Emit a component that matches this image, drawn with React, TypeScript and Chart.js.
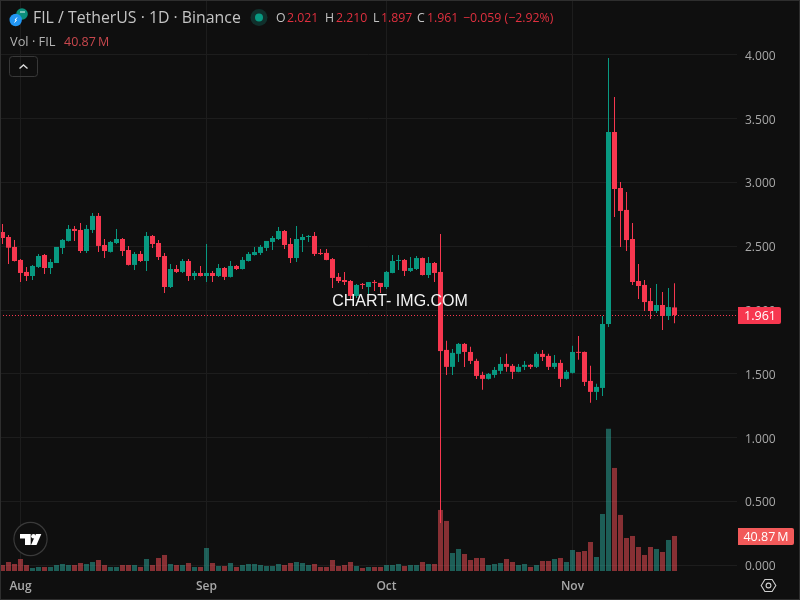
import React, { useEffect, useRef } from "react";
import { Chart, registerables } from "chart.js";

Chart.register(...registerables);

const opens = [2.612,2.573,2.495,2.393,2.299,2.267,2.338,2.432,2.330,2.369,2.487,2.542,2.636,2.628,2.463,2.628,2.738,2.510,2.456,2.526,2.557,2.471,2.354,2.440,2.385,2.581,2.526,2.424,2.181,2.322,2.299,2.385,2.267,2.291,2.267,2.291,2.267,2.330,
2.260,2.346,2.322,2.385,2.432,2.448,2.487,2.534,2.557,2.620,2.518,2.408,2.549,2.573,2.581,2.448,2.448,2.400,2.260,2.236,2.228,2.111,2.205,2.181,2.220,2.213,2.181,2.291,2.385,2.393,2.307,2.322,2.408,2.275,2.369,2.299,
1.688,1.555,1.657,1.735,1.672,1.602,1.492,1.461,1.492,1.524,1.578,1.563,1.516,1.555,1.571,1.555,1.657,1.641,1.555,1.586,1.461,1.508,1.672,1.672,1.445,1.359,1.390,1.891,3.396,2.957,2.785,2.557,2.228,2.197,2.071,1.993,2.040,1.954,2.021];
const highs = [2.675,2.589,2.550,2.401,2.338,2.354,2.440,2.440,2.401,2.495,2.557,2.667,2.659,2.683,2.667,2.761,2.761,2.557,2.542,2.636,2.565,2.503,2.456,2.463,2.612,2.589,2.550,2.448,2.361,2.354,2.401,2.401,2.307,2.346,2.518,2.307,2.361,2.338,
2.385,2.354,2.416,2.455,2.495,2.510,2.542,2.581,2.651,2.628,2.565,2.659,2.596,2.589,2.612,2.479,2.479,2.408,2.291,2.299,2.236,2.205,2.213,2.220,2.236,2.213,2.307,2.432,2.432,2.400,2.416,2.424,2.412,2.416,2.377,2.596,
1.759,1.696,1.743,1.743,1.712,1.618,1.516,1.508,1.555,1.633,1.657,1.578,1.578,1.602,1.578,1.672,1.688,1.657,1.649,1.610,1.531,1.720,1.798,1.676,1.563,1.422,1.954,3.976,3.670,3.004,2.925,2.683,2.361,2.236,2.173,2.205,2.142,2.173,2.210];
const lows = [2.518,2.361,2.380,2.220,2.228,2.236,2.330,2.283,2.283,2.369,2.440,2.538,2.542,2.448,2.448,2.604,2.456,2.408,2.452,2.518,2.424,2.350,2.315,2.377,2.307,2.487,2.393,2.134,2.173,2.291,2.291,2.228,2.236,2.263,2.220,2.220,2.260,2.236,
2.256,2.314,2.318,2.381,2.428,2.432,2.463,2.471,2.549,2.479,2.369,2.377,2.455,2.534,2.424,2.432,2.390,2.173,2.212,2.197,2.079,2.095,2.166,2.126,2.150,2.134,2.166,2.288,2.314,2.267,2.299,2.314,2.272,2.252,2.220,0.332,
1.492,1.492,1.594,1.555,1.578,1.461,1.375,1.457,1.469,1.500,1.516,1.461,1.512,1.531,1.539,1.547,1.602,1.531,1.539,1.398,1.457,1.504,1.610,1.406,1.273,1.296,1.327,1.868,2.730,2.495,2.463,2.197,2.087,1.993,1.930,1.977,1.844,1.922,1.897];
const closes = [2.565,2.489,2.385,2.291,2.267,2.346,2.424,2.330,2.377,2.495,2.550,2.636,2.620,2.463,2.636,2.738,2.503,2.463,2.534,2.557,2.463,2.354,2.440,2.385,2.581,2.518,2.416,2.181,2.322,2.299,2.385,2.267,2.291,2.267,2.291,2.267,2.330,2.260,
2.346,2.322,2.393,2.440,2.455,2.495,2.542,2.565,2.620,2.510,2.408,2.557,2.573,2.581,2.440,2.440,2.393,2.252,2.228,2.220,2.111,2.197,2.197,2.220,2.213,2.181,2.299,2.385,2.393,2.307,2.330,2.408,2.275,2.369,2.291,1.679,
1.555,1.665,1.735,1.672,1.602,1.484,1.461,1.500,1.531,1.578,1.555,1.516,1.555,1.571,1.555,1.657,1.633,1.555,1.586,1.461,1.516,1.672,1.665,1.437,1.359,1.398,1.891,3.396,2.949,2.777,2.549,2.220,2.189,2.063,1.993,2.040,1.954,2.024,1.961];
const volumes = [7.0,10.5,8.2,14.0,7.0,3.5,4.7,4.7,4.7,7.0,8.2,7.0,7.0,9.3,8.2,10.5,12.8,7.0,4.7,4.7,7.0,7.0,7.0,4.7,14.0,7.0,15.2,18.7,8.2,7.0,7.0,9.3,4.7,4.7,26.8,9.3,5.8,5.8,9.3,4.7,7.0,8.2,8.2,7.0,5.8,5.8,8.2,7.0,9.3,10.5,9.3,7.0,8.2,4.7,4.7,12.8,5.8,7.0,10.5,5.8,3.5,4.7,4.7,4.7,7.0,7.0,8.2,5.8,7.0,7.0,10.5,8.2,8.2,71.2,58.4,21.0,25.7,19.8,12.8,15.2,15.2,7.0,8.2,9.3,14.0,10.5,7.0,8.2,4.7,7.0,11.7,11.7,14.0,15.2,10.5,24.5,22.2,23.3,33.8,16.3,66.5,165.8,120.2,65.4,38.5,40.87,28.0,18.7,28.0,25.7,22.2,36.2,40.87];

const monthTickIndex = [3, 34, 64, 95];
const monthLabels = ["Aug", "Sep", "Oct", "Nov"];
const priceTicks = [0, 0.5, 1, 1.5, 2, 2.5, 3, 3.5, 4];

const titleText = "FIL / TetherUS · 1D · Binance";
const ohlcKeys = ["O", "H", "L", "C"];
const ohlcValues = ["2.021", "2.210", "1.897", "1.961"];
const changeText = "−0.059 (−2.92%)";
const volLabel = "Vol · FIL";
const volValueText = "40.87\u2009M";
const priceBadgeText = "1.961";
const watermarkText = "CHART- IMG.COM";

const UP = "#089981";
const DOWN = "#f7374f";
const UP_VOL = "rgba(42,160,148,0.55)";
const DOWN_VOL = "rgba(255,81,89,0.5)";
const BG = "#0f0f0f";
const GRID = "#1d1d1d";
const TEXT = "#a8a8a8";
const FONT = '"Open Sans", sans-serif';

const xPositions = closes.map((_, i) => i);
const isUp = closes.map((c, i) => c >= opens[i]);

function roundRect(ctx: CanvasRenderingContext2D, x: number, y: number, w: number, h: number, r: any) {
  ctx.beginPath();
  ctx.roundRect(x, y, w, h, r);
}

const decorPlugin = {
  id: "decor",
  beforeDraw(chart: any) {
    const { ctx } = chart;
    ctx.save();
    ctx.fillStyle = BG;
    ctx.fillRect(0, 0, 800, 600);
    ctx.restore();
  },
  beforeDatasetsDraw(chart: any) {
    const { ctx, chartArea, scales } = chart;
    const y = Math.round(scales.y.getPixelForValue(closes[closes.length - 1])) + 0.5;
    ctx.save();
    ctx.strokeStyle = DOWN;
    ctx.lineWidth = 1;
    ctx.setLineDash([1, 2]);
    ctx.beginPath();
    ctx.moveTo(0, y);
    ctx.lineTo(chartArea.right, y);
    ctx.stroke();
    ctx.restore();
  },
  afterDatasetsDraw(chart: any) {
    const { ctx, scales } = chart;
    ctx.save();
    ctx.textBaseline = "alphabetic";
    // watermark
    ctx.fillStyle = "#f2f2f2";
    ctx.font = `16px "Liberation Sans", Arial, sans-serif`;
    ctx.textAlign = "center";
    ctx.fillText(watermarkText, 400, 306);
    ctx.textAlign = "left";

    // header
    ctx.fillStyle = "#c4c4c4";
    ctx.font = `15.85px ${FONT}`;
    ctx.fillText(titleText, 33, 23);
    ctx.font = `12.8px ${FONT}`;
    ctx.fillStyle = "#b2b2b2";
    ctx.fillText(volLabel, 10, 46);
    ctx.font = `12.5px ${FONT}`;
    ctx.fillStyle = "#c8474d";
    ctx.fillText(volValueText, 64, 46);

    ctx.font = `12.3px ${FONT}`;
    const keyX = [276, 325, 373, 417];
    const valX = [287, 336, 381, 427];
    ohlcKeys.forEach((k, i) => {
      ctx.fillStyle = "#c4c4c4";
      ctx.fillText(k, keyX[i], 22);
      ctx.fillStyle = "#e0303f";
      ctx.fillText(ohlcValues[i], valX[i], 22);
    });
    ctx.fillStyle = "#e0303f";
    ctx.fillText(changeText, 463, 22);

    // symbol icons
    ctx.fillStyle = "#0b8f7c";
    ctx.beginPath();
    ctx.arc(22, 14, 5.8, 0, Math.PI * 2);
    ctx.fill();
    ctx.strokeStyle = "#e8f5f3";
    ctx.lineWidth = 1;
    ctx.beginPath();
    ctx.moveTo(20, 12);
    ctx.lineTo(25, 12);
    ctx.stroke();
    ctx.fillStyle = "#2196f3";
    ctx.beginPath();
    ctx.arc(15.7, 20, 6.2, 0, Math.PI * 2);
    ctx.fill();
    ctx.strokeStyle = "#ffffff";
    ctx.beginPath();
    ctx.moveTo(17, 17.5);
    ctx.lineTo(15, 20);
    ctx.lineTo(16.5, 20);
    ctx.lineTo(14.5, 22.5);
    ctx.stroke();

    // status dot
    ctx.fillStyle = "#10302c";
    ctx.beginPath();
    ctx.arc(259, 17.5, 8.5, 0, Math.PI * 2);
    ctx.fill();
    ctx.fillStyle = UP;
    ctx.beginPath();
    ctx.arc(259, 17.5, 4, 0, Math.PI * 2);
    ctx.fill();

    // collapse button
    ctx.strokeStyle = "#383838";
    ctx.lineWidth = 1;
    roundRect(ctx, 9.5, 56.5, 28, 20, 3);
    ctx.stroke();
    ctx.strokeStyle = "#dcdcdc";
    ctx.lineWidth = 1.4;
    ctx.beginPath();
    ctx.moveTo(19.5, 68.5);
    ctx.lineTo(23.5, 65);
    ctx.lineTo(27.5, 68.5);
    ctx.stroke();

    // logo
    ctx.fillStyle = BG;
    ctx.strokeStyle = "#3a3a3a";
    ctx.lineWidth = 1.2;
    ctx.beginPath();
    ctx.arc(30.5, 539, 16.6, 0, Math.PI * 2);
    ctx.fill();
    ctx.stroke();
    ctx.fillStyle = "#ffffff";
    ctx.beginPath();
    ctx.moveTo(20, 534);
    ctx.lineTo(30.7, 534);
    ctx.lineTo(30.7, 545);
    ctx.lineTo(25, 545);
    ctx.lineTo(25, 538.5);
    ctx.lineTo(20, 538.5);
    ctx.closePath();
    ctx.fill();
    ctx.beginPath();
    ctx.arc(33.5, 536.3, 2.3, 0, Math.PI * 2);
    ctx.fill();
    ctx.beginPath();
    ctx.moveTo(36, 534);
    ctx.lineTo(41.3, 534);
    ctx.lineTo(36.5, 545);
    ctx.lineTo(31, 545);
    ctx.closePath();
    ctx.fill();

    // settings icon
    ctx.strokeStyle = "#cfcfcf";
    ctx.lineWidth = 1.1;
    const cx = 768.5, cy = 585.5;
    ctx.beginPath();
    ctx.moveTo(cx - 7.3, cy);
    ctx.lineTo(cx - 3.6, cy - 6);
    ctx.lineTo(cx + 3.6, cy - 6);
    ctx.lineTo(cx + 7.3, cy);
    ctx.lineTo(cx + 3.6, cy + 6);
    ctx.lineTo(cx - 3.6, cy + 6);
    ctx.closePath();
    ctx.stroke();
    ctx.beginPath();
    ctx.arc(cx, cy, 2.4, 0, Math.PI * 2);
    ctx.stroke();

    // badges
    const py = Math.round(scales.y.getPixelForValue(closes[closes.length - 1]));
    ctx.fillStyle = DOWN;
    roundRect(ctx, 738, py - 8, 43, 17, [0, 2, 2, 0]);
    ctx.fill();
    ctx.fillStyle = "#ffffff";
    ctx.font = `12.5px ${FONT}`;
    ctx.textAlign = "center";
    ctx.fillText(priceBadgeText, 760, py + 5);
    const vy = Math.round(scales.vol.getPixelForValue(volumes[volumes.length - 1]));
    ctx.fillStyle = "#f25a5a";
    roundRect(ctx, 738, vy - 8, 56, 17, [0, 2, 2, 0]);
    ctx.fill();
    ctx.fillStyle = "#ffffff";
    ctx.fillText(volValueText, 766, vy + 5);

    // frame
    ctx.strokeStyle = "#2e2e2e";
    ctx.lineWidth = 1;
    ctx.strokeRect(0.5, 0.5, 799, 599);
    ctx.restore();
  },
};

export default function App() {
  const ref = useRef<HTMLCanvasElement>(null);
  useEffect(() => {
    document.body.style.margin = "0";
    document.body.style.background = BG;
    const zero = (s: any) => {
      s.paddingTop = 0;
      s.paddingBottom = 0;
      s.paddingLeft = 0;
      s.paddingRight = 0;
    };
    const chart = new Chart(ref.current!, {
      type: "bar",
      data: {
        datasets: [
          {
            label: "Bodies",
            data: xPositions.map((x, i) => ({ x, y: [opens[i], closes[i]] })),
            backgroundColor: isUp.map((u) => (u ? UP : DOWN)),
            barThickness: 5,
            minBarLength: 1,
            grouped: false,
            inflateAmount: 0,
            order: 1,
            yAxisID: "y",
          },
          {
            label: "Wicks",
            data: xPositions.map((x, i) => ({ x, y: [lows[i], highs[i]] })),
            backgroundColor: isUp.map((u) => (u ? UP : DOWN)),
            barThickness: 1,
            grouped: false,
            inflateAmount: 0,
            order: 2,
            yAxisID: "y",
          },
          {
            label: "Volume",
            data: xPositions.map((x, i) => ({ x, y: volumes[i] })),
            backgroundColor: isUp.map((u) => (u ? UP_VOL : DOWN_VOL)),
            barThickness: 5,
            grouped: false,
            inflateAmount: 0,
            order: 3,
            yAxisID: "vol",
          },
        ] as any,
      },
      options: {
        animation: false,
        responsive: false,
        devicePixelRatio: 1,
        layout: { padding: 0 },
        plugins: { legend: { display: false }, tooltip: { enabled: false }, title: { display: false } },
        scales: {
          x: {
            type: "linear",
            min: -2.5 / 6,
            max: 734.5 / 6,
            offset: false,
            border: { display: false },
            grid: { color: GRID, drawTicks: false, offset: false },
            afterBuildTicks: (s: any) => {
              s.ticks = monthTickIndex.map((value) => ({ value }));
            },
            ticks: {
              autoSkip: false,
              maxRotation: 0,
              padding: 8,
              color: TEXT,
              font: { family: '"Open Sans", sans-serif', size: 12, weight: "600" },
              callback: (v: any) => monthLabels[monthTickIndex.indexOf(Number(v))] ?? "",
            },
            afterFit: (s: any) => {
              s.height = 29;
              zero(s);
            },
          },
          y: {
            type: "linear",
            position: "right",
            min: -5.7 / 127.6,
            max: 565.3 / 127.6,
            border: { display: false },
            grid: { color: GRID, drawTicks: false },
            afterBuildTicks: (s: any) => {
              s.ticks = priceTicks.map((value) => ({ value }));
            },
            ticks: {
              padding: 8,
              labelOffset: 1.5,
              color: TEXT,
              font: { family: '"Open Sans", sans-serif', size: 12 },
              callback: (v: any) => Number(v).toFixed(3),
            },
            afterFit: (s: any) => {
              s.width = 63;
              zero(s);
            },
          },
          vol: {
            type: "linear",
            display: false,
            min: 0,
            max: 666,
            grid: { display: false },
          },
        },
      } as any,
      plugins: [decorPlugin as any],
    });
    return () => chart.destroy();
  }, []);
  return (
    <div style={{ position: "fixed", left: 0, top: 0, width: 800, height: 600 }}>
      <canvas ref={ref} width={800} height={600} style={{ display: "block", width: 800, height: 600 }} />
    </div>
  );
}
